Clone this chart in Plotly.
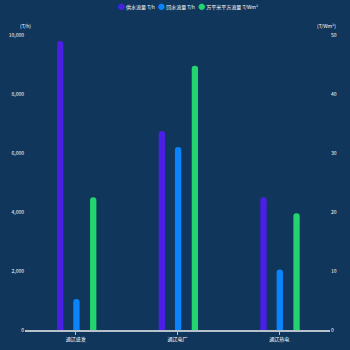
import plotly.graph_objects as go

categories = ["通辽盛发", "通辽电厂", "通辽热电"]
supply_flow = [9800, 6750, 4500]
return_flow = [1050, 6200, 2050]
area_flow = [22.5, 44.8, 19.8]
names = ["供水流量 T/h", "回水流量 T/h", "万平米平方流量 T/Wm²"]
colors = ["#4b1fe6", "#0a84fa", "#22d56f"]
left_ticks = [0, 2000, 4000, 6000, 8000, 10000]
right_ticks = [0, 10, 20, 30, 40, 50]

bg = "#10365c"
fig = go.Figure()
series = [(supply_flow, "y", -0.185), (return_flow, "y", -0.025), (area_flow, "y2", 0.14)]
for (vals, ax, off), name, col in zip(series, names, colors):
    fig.add_trace(go.Bar(x=categories, y=vals, yaxis=ax, name=name, marker_color=col,
                         marker_line_width=0, width=0.062, offset=off, showlegend=False))

legend_text = "&nbsp;&nbsp;&nbsp;".join(
    f'<span style="color:{c}; font-size:7px">●</span> {n}' for n, c in zip(names, colors))

font = "Noto Sans CJK SC, Noto Sans, sans-serif"
fig.update_layout(
    width=350, height=350, paper_bgcolor=bg, plot_bgcolor=bg,
    margin=dict(l=25, r=20, t=35, b=20, autoexpand=False),
    barcornerradius="50%", showlegend=False,
    font=dict(family=font, size=5, color="#ffffff"),
    xaxis=dict(showgrid=False, showline=True, linecolor="#b8c2cc", linewidth=2,
               ticks="outside", tickcolor="#b8c2cc", ticklen=3, tickfont=dict(size=5, color="#ffffff"),
               zeroline=False),
    yaxis=dict(range=[0, 10000], tickvals=left_ticks, tickformat=",", showgrid=False,
               zeroline=False, showline=False, tickfont=dict(size=5, color="#ffffff")),
    yaxis2=dict(range=[0, 50], tickvals=right_ticks, overlaying="y", side="right",
                showgrid=False, zeroline=False, showline=False, tickfont=dict(size=5, color="#ffffff")),
    annotations=[
        dict(text=legend_text, xref="paper", yref="paper", x=0.534, y=1.098, xanchor="center",
             yanchor="middle", showarrow=False, font=dict(size=5, color="#ffffff")),
        dict(text="(T/h)", xref="paper", yref="paper", x=0.0, y=1.015, xanchor="center",
             yanchor="bottom", showarrow=False, font=dict(size=5, color="#ffffff")),
        dict(text="(T/Wm²)", xref="paper", yref="paper", x=0.99, y=1.015, xanchor="center",
             yanchor="bottom", showarrow=False, font=dict(size=5, color="#ffffff")),
    ],
)
fig.write_html("out.html")
